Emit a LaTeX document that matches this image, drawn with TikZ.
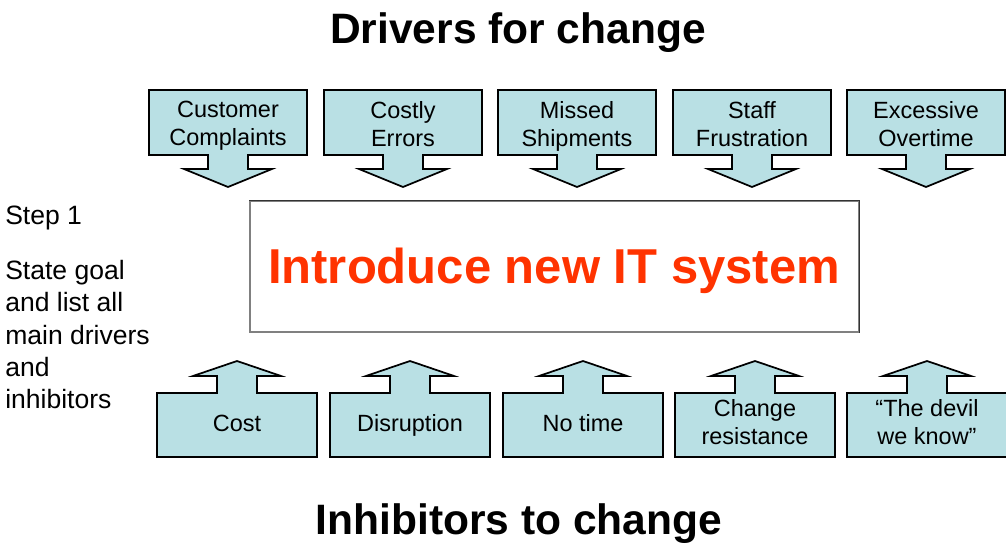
\documentclass[tikz,border=0pt]{standalone}
\usepackage{fontspec}
\setmainfont{Liberation Sans}
\definecolor{boxfill}{RGB}{185,224,228}
\definecolor{goalred}{RGB}{255,51,0}

\begin{document}
\begin{tikzpicture}[x=0.75pt,y=-0.75pt,
    arrowbox/.style={draw=black, line width=1.3pt, fill=boxfill, line join=miter},
    boxtext/.style={align=center, inner sep=0pt, font=\fontsize{17.6}{21}\selectfont,
      execute at begin node=\strut, execute at end node=\strut},
    headline/.style={inner sep=0pt, font=\bfseries\fontsize{31.9}{38}\selectfont},
    sidetext/.style={inner sep=0pt, align=left, font=\fontsize{19.9}{24.2}\selectfont}]
  \useasboundingbox (0,0) rectangle (1006,545);

  \node[headline, anchor=base] (drivers) at (518,44) {Drivers for change};

  \foreach \l/\t [count=\i] in {149/{Customer\\Complaints}, 324/{Costly\\Errors}, 498/{Missed\\Shipments}, 673/{Staff\\Frustration}, 847/{Excessive\\Overtime}} {
    \pgfmathsetmacro\c{\l+79}
    \filldraw[arrowbox] (\l,90) -- ++(158,0) -- ++(0,65) -- (\c+20,155) -- (\c+20,169) -- (\c+44,169)
      -- (\c,187) -- (\c-44,169) -- (\c-20,169) -- (\c-20,155) -- (\l,155) -- cycle;
    \node[boxtext] (driver\i) at (\c,128) {\t};
  }

  \node[draw=black!50, line width=1pt, minimum width=456.75pt, minimum height=98.25pt] (goal) at (554.5,266.5) {};
  \draw[black!80, line width=1pt] (goal.north west) -- (goal.north east) -- (goal.south east);
  \node[text=goalred, font=\bfseries\fontsize{36.75}{44}\selectfont, anchor=base] (goaltext) at (554,283) {Introduce new IT system};

  \node[sidetext, anchor=west] (step) at (5,218) {Step 1};
  \node[sidetext, anchor=north west] (howto) at (5,260) {State goal\\and list all\\main drivers\\and\\inhibitors};

  \foreach \l/\t [count=\i] in {157/Cost, 330/Disruption, 503/No time, 675/{Change\\resistance}, 847/{“The devil\\we know”}} {
    \pgfmathsetmacro\c{\l+80}
    \filldraw[arrowbox] (\l,457) -- ++(160,0) -- ++(0,-64) -- (\c+20,393) -- (\c+20,376) -- (\c+44,376)
      -- (\c,361) -- (\c-44,376) -- (\c-20,376) -- (\c-20,393) -- (\l,393) -- cycle;
    \node[boxtext] (inhibitor\i) at (\c,426) {\t};
  }

  \node[headline, anchor=base] (inhibitors) at (519,534) {Inhibitors to change};
\end{tikzpicture}
\end{document}
